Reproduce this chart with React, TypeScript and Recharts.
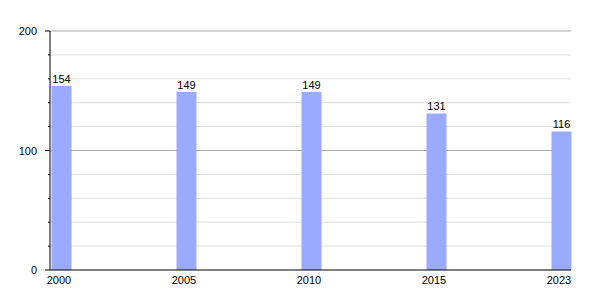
import { BarChart, Bar, XAxis, YAxis, CartesianGrid, LabelList } from "recharts";

const years = ["2000", "2005", "2010", "2015", "2023"];
const values = [154, 149, 149, 131, 116];
const minorTicks = [0, 20, 40, 60, 80, 100, 120, 140, 160, 180, 200];
const majorTicks = [0, 100, 200];

const data = years.map((year, i) => ({ idx: i, year, value: values[i] }));

const FONT = "'Liberation Sans', Arial, sans-serif";

function YTick(props: any) {
  const { x, y, payload } = props;
  const axisX = x + 11;
  const major = majorTicks.includes(payload.value);
  return (
    <g>
      <line x1={axisX - (major ? 5 : 2)} x2={axisX} y1={y} y2={y} stroke="#000" />
      {major && (
        <text x={axisX - 13} y={y} dy={4} textAnchor="end" fontSize={11} fill="#000" fontFamily={FONT}>
          {payload.value}
        </text>
      )}
    </g>
  );
}

export default function App() {
  return (
    <BarChart
      width={592}
      height={290}
      data={data}
      margin={{ top: 23, right: 29, left: 0, bottom: 8 }}
    >
      <CartesianGrid
        vertical={false}
        stroke="#dddddd"
        horizontalValues={minorTicks.filter((v) => !majorTicks.includes(v))}
      />
      <CartesianGrid
        vertical={false}
        stroke="#a8a8a8"
        horizontalValues={majorTicks.filter((v) => v > 0)}
      />
      <XAxis
        dataKey="idx"
        type="number"
        domain={[-0.088, 4.08]}
        ticks={[0, 1, 2, 3, 4]}
        tickFormatter={(v: number) => years[v]}
        tickLine={false}
        axisLine={{ stroke: "#000" }}
        height={20}
        tick={{ fontSize: 11, fill: "#000", fontFamily: FONT, dx: -2 }}
        tickMargin={0}
        interval={0}
      />
      <YAxis
        type="number"
        domain={[0, 200]}
        ticks={minorTicks}
        width={42}
        tickLine={false}
        tickSize={6}
        tickMargin={5}
        axisLine={{ stroke: "#000" }}
        tick={<YTick />}
        interval={0}
      />
      <Bar dataKey="value" fill="#99aaff" barSize={20} isAnimationActive={false}>
        <LabelList
          dataKey="value"
          position="top"
          offset={3}
          style={{ fontSize: 11, fill: "#000", fontFamily: FONT }}
        />
      </Bar>
    </BarChart>
  );
}
